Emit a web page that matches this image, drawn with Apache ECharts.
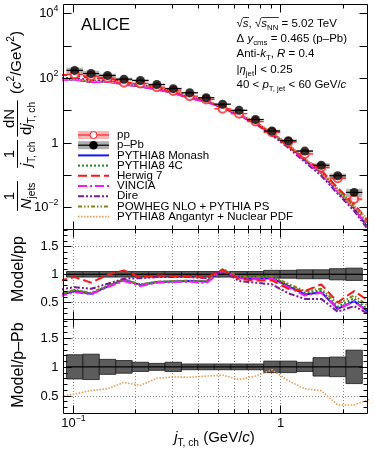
<!DOCTYPE html>
<html><head><meta charset="utf-8">
<script src="https://cdn.jsdelivr.net/npm/echarts@6.0.0/dist/echarts.min.js"></script>
<style>html,body{margin:0;padding:0;background:#fff;}#chart{width:374px;height:457px;}</style>
</head><body><div id="chart"></div>
<script>
// ---------------- data ----------------
const binEdges = [0.0935,0.1122,0.1346,0.1615,0.1938,0.2326,0.2791,0.3349,0.4019,0.4823,0.5787,0.6944,0.8333,1.0,1.2,1.44,1.728,2.074,2.488];
const ppValues  = [130,115,100,71,68,52,40,27.5,21.7,11.2,7.9,4.5,2.1,1.05,0.45,0.17,0.08,0.018];
const ppRelUnc  = [0.05,0.05,0.05,0.05,0.05,0.05,0.05,0.05,0.05,0.05,0.05,0.05,0.07,0.07,0.08,0.08,0.10,0.11];
const ppbValues = [172,138,120,92,84,63,47,35,24.5,15.5,10,5.2,2.3,1.15,0.55,0.20,0.095,0.029];
const ppbRelUnc = [0.21,0.22,0.13,0.11,0.08,0.06,0.08,0.05,0.05,0.05,0.05,0.05,0.10,0.10,0.08,0.16,0.17,0.29];
const modelOuterX = [0.0853, 2.727];
const ppOuter  = [140, 0.006];
const ppbOuter = [185, 0.009];
// Model / pp  (first and last entries lie outside the drawn range)
const ratioMonash = [0.62,0.70,0.65,0.78,0.90,0.81,0.86,0.87,0.88,0.87,1.08,0.94,0.92,0.93,0.79,0.64,0.68,0.38,0.52,0.30];
const ratio4C     = [0.63,0.72,0.66,0.79,0.91,0.81,0.86,0.87,0.88,0.87,1.09,0.95,0.94,0.95,0.81,0.67,0.71,0.42,0.57,0.33];
const ratioHerwig = [0.88,0.95,0.85,0.99,1.07,0.94,0.98,0.97,0.96,0.94,1.08,0.92,0.89,0.89,0.74,0.70,0.82,0.50,0.70,0.50];
const ratioVincia = [0.60,0.68,0.64,0.77,0.88,0.79,0.85,0.86,0.87,0.84,1.07,0.93,0.91,0.92,0.77,0.62,0.67,0.38,0.51,0.30];
const ratioDire   = [0.72,0.77,0.74,0.83,0.92,0.93,0.95,0.95,0.95,0.93,1.07,0.88,0.85,0.82,0.66,0.56,0.56,0.33,0.43,0.27];
const ratioPowheg = [0.64,0.72,0.67,0.80,0.91,0.82,0.87,0.88,0.89,0.88,1.09,0.96,0.95,0.96,0.83,0.70,0.74,0.47,0.62,0.40];
// Model / p-Pb
const ratioAngantyr = [0.47,0.53,0.59,0.62,0.73,0.68,0.80,0.825,0.82,0.84,0.855,0.78,0.84,0.95,0.76,0.62,0.585,0.34,0.34,0.44];

const legendNames = ['pp','p\u2013Pb','PYTHIA8 Monash','PYTHIA8 4C','Herwig 7','VINCIA','Dire','POWHEG NLO + PYTHIA PS','PYTHIA8 Angantyr + Nuclear PDF'];
const xMajorTicks = [0.1, 1];
const xMinorTicks = [0.2,0.3,0.4,0.5,0.6,0.7,0.8,0.9,2];
const logYTicks = [1e-2,1e-1,1,10,100,1000,1e4];
const ratioMajor = [0.5,1,1.5];
const ratioMinor = [0.3,0.4,0.6,0.7,0.8,0.9,1.1,1.2,1.3,1.4,1.6,1.7,1.8];

// ---------------- helpers ----------------
const FONT = 'Liberation Sans';
const mctx = document.createElement('canvas').getContext('2d');
function tw(t, size, italic){ mctx.font = (italic?'italic ':'') + size + 'px "' + FONT + '"'; return mctx.measureText(t).width; }
function txt(t, x, y, size, italic, align){
  return {type:'text', x:x, y:y, silent:true, style:{text:t, fontSize:size, fontFamily:FONT, fontStyle: italic?'italic':'normal',
    fill:'#000', textFill:'#000', align:align||'left', textAlign:align||'left', verticalAlign:'middle', textVerticalAlign:'middle'}};
}
// parts: [text, flags] flags: i italic, s sub, S sup, o overline
function rich(parts, x, y, fs, align){
  const small = fs*0.68;
  const info = parts.map(([t,f])=>{ f=f||''; const sz=(f.includes('s')||f.includes('S'))?small:fs; return {t, f, sz, w:tw(t, sz, f.includes('i'))}; });
  const total = info.reduce((a,b)=>a+b.w,0);
  let cx = align==='center' ? x-total/2 : align==='right' ? x-total : x;
  const els=[];
  info.forEach(p=>{
    const yy = y + (p.f.includes('s') ? fs*0.36 : p.f.includes('S') ? -fs*0.36 : 0);
    els.push(txt(p.t, cx, yy, p.sz, p.f.includes('i'), 'left'));
    if (p.f.includes('o')) els.push({type:'line', silent:true, shape:{x1:cx, y1:y-fs*0.52, x2:cx+p.w+0.5, y2:y-fs*0.52}, style:{stroke:'#000', lineWidth:0.8}});
    cx += p.w;
  });
  return {els, total};
}

const centers = binEdges.slice(0,-1).map((e,i)=>Math.sqrt(e*binEdges[i+1]));
const modelX = [modelOuterX[0], ...centers, modelOuterX[1]];
const ppRef  = [ppOuter[0], ...ppValues, ppOuter[1]];
const ppbRef = [ppbOuter[0], ...ppbValues, ppbOuter[1]];

const models = [
  {name:'PYTHIA8 Monash', r:ratioMonash, color:'#1414ff', dash:'solid', w:2},
  {name:'PYTHIA8 4C', r:ratio4C, color:'#1e8c1e', dash:[2,2], w:2},
  {name:'POWHEG NLO + PYTHIA PS', r:ratioPowheg, color:'#84841a', dash:[4,2,1.5,2,1.5,2], w:2},
  {name:'Dire', r:ratioDire, color:'#7a1a98', dash:[6,2,2,2,2,2], w:2},
  {name:'VINCIA', r:ratioVincia, color:'#ff14ff', dash:[9,3,2,3], w:2},
  {name:'Herwig 7', r:ratioHerwig, color:'#ff1414', dash:[9,4], w:2},
];
const angantyr = {color:'#f09a50', dash:[1.5,1.5], w:1.6};

// ---------------- axes ----------------
const xMin=0.09, xMax=2.62;
const grids = [
  {left:63, top:4, width:304, height:225},
  {left:63, top:229, width:304, height:90},
  {left:63, top:319, width:304, height:94},
];
const xAxes = grids.map((g,i)=>({type:'log', logBase:10, gridIndex:i, min:xMin, max:xMax,
  axisLine:{show:false}, axisTick:{show:false}, axisLabel:{show:false}, splitLine:{show:false}}));
const yAxes = [
  {type:'log', logBase:10, gridIndex:0, min:Math.pow(10,-2.67), max:Math.pow(10,4.29), axisLine:{show:false}, axisTick:{show:false}, axisLabel:{show:false}, splitLine:{show:false}},
  {type:'value', gridIndex:1, min:0.2, max:1.81, axisLine:{show:false}, axisTick:{show:false}, axisLabel:{show:false}, splitLine:{show:false}},
  {type:'value', gridIndex:2, min:0.2, max:1.83, axisLine:{show:false}, axisTick:{show:false}, axisLabel:{show:false}, splitLine:{show:false}},
];

function fmtLog(v){
  const e=Math.round(Math.log10(v));
  if (e===0) return [['1','']];
  return [['10',''],[(e<0?'\u2212':'')+Math.abs(e),'S']];
}

// frame, ticks, tick labels
function frameSeries(gi, cfg){
  return {type:'custom', xAxisIndex:gi, yAxisIndex:gi, silent:true, z:20, clip:false, data:[[1,1]],
    renderItem(params, api){
      const cs=params.coordSys; const L=Math.round(cs.x)+0.5, T=Math.round(cs.y)+0.5, R=Math.round(cs.x+cs.width)+0.5, B=Math.round(cs.y+cs.height)+0.5;
      const px=v=>Math.round(api.coord([v,1])[0])+0.5;
      const py=v=>Math.round(api.coord([1,v])[1])+0.5;
      const ch=[]; const st={stroke:'#000', lineWidth:1};
      const ln=(x1,y1,x2,y2)=>ch.push({type:'line', shape:{x1,y1,x2,y2}, style:st});
      xMajorTicks.forEach(v=>{const x=px(v); ln(x,B,x,B-8); ln(x,T,x,T+8);});
      xMinorTicks.forEach(v=>{const x=px(v); ln(x,B,x,B-4); ln(x,T,x,T+4);});
      cfg.yMajor.forEach(v=>{const y=py(v); ln(L,y,L+8,y); ln(R,y,R-8,y);});
      (cfg.yMinor||[]).forEach(v=>{const y=py(v); ln(L,y,L+4,y); ln(R,y,R-4,y);});
      ch.push({type:'rect', shape:{x:L, y:T, width:R-L, height:B-T}, style:{fill:'none', stroke:'#000', lineWidth:1}});
      cfg.yLabels.forEach(([v,parts])=>{ ch.push(...rich(parts, L-5, py(v), 13, 'right').els); });
      if (cfg.xLabels) cfg.xLabels.forEach(([v,parts])=>{ ch.push(...rich(parts, px(v), B+10, 13, 'center').els); });
      return {type:'group', children:ch};
    }};
}
function gridSeries(gi, ys){
  return {type:'custom', xAxisIndex:gi, yAxisIndex:gi, silent:true, z:1, clip:false, data:[[1,1]],
    renderItem(params, api){
      const cs=params.coordSys; const T=cs.y, B=cs.y+cs.height, L=cs.x, R=cs.x+cs.width;
      const ch=[]; const st={stroke:'#8a8a8a', lineWidth:1, lineDash:[1,2]};
      [...xMajorTicks, ...xMinorTicks].forEach(v=>{const x=Math.round(api.coord([v,1])[0])+0.5; ch.push({type:'line', shape:{x1:x,y1:T,x2:x,y2:B}, style:st});});
      ys.forEach(v=>{const y=Math.round(api.coord([1,v])[1])+0.5; ch.push({type:'line', shape:{x1:L,y1:y,x2:R,y2:y}, style:st});});
      return {type:'group', children:ch};
    }};
}
function boxSeries(gi, rows, style, z){
  return {type:'custom', xAxisIndex:gi, yAxisIndex:gi, silent:true, z:z, data:rows, encode:{x:[0,1], y:[2,3]},
    renderItem(params, api){
      const p0=api.coord([api.value(0), api.value(3)]), p1=api.coord([api.value(1), api.value(2)]);
      return {type:'rect', shape:{x:p0[0], y:p0[1], width:p1[0]-p0[0], height:p1[1]-p0[1]}, style:style};
    }};
}
function barSeries(gi, rows, color, z){
  return {type:'custom', xAxisIndex:gi, yAxisIndex:gi, silent:true, z:z, data:rows, encode:{x:[0,1], y:2},
    renderItem(params, api){
      const p0=api.coord([api.value(0), api.value(2)]), p1=api.coord([api.value(1), api.value(2)]);
      return {type:'line', shape:{x1:p0[0], y1:p0[1], x2:p1[0], y2:p1[1]}, style:{stroke:color, lineWidth:1.2}};
    }};
}

const series = [];
// ----- top panel -----
series.push(boxSeries(0, ppbValues.map((v,i)=>[binEdges[i],binEdges[i+1],v*(1-ppbRelUnc[i]),v*(1+ppbRelUnc[i])]), {fill:'rgba(120,120,120,0.55)'}, 2));
series.push(boxSeries(0, ppValues.map((v,i)=>[binEdges[i],binEdges[i+1],v*(1-ppRelUnc[i]),v*(1+ppRelUnc[i])]), {fill:'rgba(255,90,90,0.4)'}, 3));
models.forEach(m=>series.push({type:'line', xAxisIndex:0, yAxisIndex:0, symbol:'none', silent:true, z:4, clip:true,
  lineStyle:{color:m.color, width:m.w, type:m.dash}, data: modelX.map((x,i)=>[x, m.r[i]*ppRef[i]])}));
series.push({type:'line', xAxisIndex:0, yAxisIndex:0, symbol:'none', silent:true, z:4, clip:true,
  lineStyle:{color:angantyr.color, width:angantyr.w, type:angantyr.dash}, data: modelX.map((x,i)=>[x, ratioAngantyr[i]*ppbRef[i]])});
series.push(barSeries(0, ppValues.map((v,i)=>[binEdges[i],binEdges[i+1],v]), '#ff2020', 6));
series.push({type:'scatter', xAxisIndex:0, yAxisIndex:0, symbol:'emptyCircle', symbolSize:8, silent:true, z:7,
  itemStyle:{color:'#ff2020', borderColor:'#ff2020', borderWidth:1}, data: ppValues.map((v,i)=>[centers[i], v])});
series.push(barSeries(0, ppbValues.map((v,i)=>[binEdges[i],binEdges[i+1],v]), '#000', 8));
series.push({type:'scatter', xAxisIndex:0, yAxisIndex:0, symbol:'circle', symbolSize:9, silent:true, z:9,
  itemStyle:{color:'#000'}, data: ppbValues.map((v,i)=>[centers[i], v])});
series.push(frameSeries(0, {yMajor:logYTicks, yLabels:[1e-2,1,100,1e4].map(v=>[v, fmtLog(v)])}));

// ----- Model/pp panel -----
series.push(gridSeries(1, ratioMajor));
series.push(boxSeries(1, ppRelUnc.map((u,i)=>[binEdges[i],binEdges[i+1],1-u,1+u]), {fill:'#5c5c5c', stroke:'#1a1a1a', lineWidth:0.8}, 2));
series.push(barSeries(1, ppRelUnc.map((u,i)=>[binEdges[i],binEdges[i+1],1]), '#000', 3));
models.forEach(m=>series.push({type:'line', xAxisIndex:1, yAxisIndex:1, symbol:'none', silent:true, z:4, clip:true,
  lineStyle:{color:m.color, width:m.w, type:m.dash}, data: modelX.map((x,i)=>[x, m.r[i]])}));
series.push(frameSeries(1, {yMajor:ratioMajor, yMinor:ratioMinor, yLabels:[[0.5,[['0.5','']]],[1,[['1','']]],[1.5,[['1.5','']]]]}));

// ----- Model/p-Pb panel -----
series.push(gridSeries(2, ratioMajor));
series.push(boxSeries(2, ppbRelUnc.map((u,i)=>[binEdges[i],binEdges[i+1],1-u,1+u]), {fill:'#5c5c5c', stroke:'#1a1a1a', lineWidth:0.8}, 2));
series.push(barSeries(2, ppbRelUnc.map((u,i)=>[binEdges[i],binEdges[i+1],1]), '#000', 3));
series.push({type:'line', xAxisIndex:2, yAxisIndex:2, symbol:'none', silent:true, z:4, clip:true,
  lineStyle:{color:angantyr.color, width:angantyr.w, type:angantyr.dash}, data: modelX.map((x,i)=>[x, ratioAngantyr[i]])});
series.push(frameSeries(2, {yMajor:ratioMajor, yMinor:ratioMinor, yLabels:[[0.5,[['0.5','']]],[1,[['1','']]],[1.5,[['1.5','']]]],
  xLabels:[[0.1, fmtLog(0.1)],[1,[['1','']]]]}));

// ---------------- graphic: titles, legend, texts ----------------
const G = [];
G.push(txt('ALICE', 81, 25, 17, false, 'left'));
const tx=236.5, tfs=11.5;
G.push(...rich([['\u221A',''],['s','io'],[', \u221A',''],['s','io'],['NN','so'],[' = 5.02 TeV','']], tx, 23.5, tfs).els);
G.push(...rich([['\u0394 ',''],['y','i'],['cms','s'],[' = 0.465 (p\u2013Pb)','']], tx, 39, tfs).els);
G.push(...rich([['Anti-',''],['k','i'],['T','s'],[', ',''],['R','i'],[' = 0.4','']], tx, 54, tfs).els);
G.push(...rich([['|',''],['\u03B7','i'],['jet','s'],['| < 0.25','']], tx, 69.5, tfs).els);
G.push(...rich([['40 < ',''],['p','i'],['T, jet','s'],[' < 60 GeV/',''],['c','i']], tx, 85, tfs).els);

// legend
const lgY0=135, lgDy=10.2, lgX0=78, lgX1=109, lgTx=117, lgFs=11.5;
legendNames.forEach((n,i)=>{ G.push(txt(n, lgTx, lgY0+i*lgDy, lgFs, false, 'left')); });
G.push({type:'rect', silent:true, shape:{x:lgX0, y:lgY0-4, width:lgX1-lgX0, height:8}, style:{fill:'rgba(255,90,90,0.45)'}});
G.push({type:'line', silent:true, shape:{x1:lgX0, y1:lgY0, x2:lgX1, y2:lgY0}, style:{stroke:'#ff2020', lineWidth:1.2}});
G.push({type:'circle', silent:true, shape:{cx:(lgX0+lgX1)/2, cy:lgY0, r:3.5}, style:{fill:'#fff', stroke:'#ff2020', lineWidth:1}});
G.push({type:'rect', silent:true, shape:{x:lgX0, y:lgY0+lgDy-4, width:lgX1-lgX0, height:8}, style:{fill:'rgba(120,120,120,0.6)'}});
G.push({type:'line', silent:true, shape:{x1:lgX0, y1:lgY0+lgDy, x2:lgX1, y2:lgY0+lgDy}, style:{stroke:'#000', lineWidth:1.2}});
G.push({type:'circle', silent:true, shape:{cx:(lgX0+lgX1)/2, cy:lgY0+lgDy, r:4.3}, style:{fill:'#000'}});
const lgOrder = ['PYTHIA8 Monash','PYTHIA8 4C','Herwig 7','VINCIA','Dire','POWHEG NLO + PYTHIA PS'];
lgOrder.forEach((n,k)=>{ const m=models.find(mm=>mm.name===n); const y=lgY0+(k+2)*lgDy;
  G.push({type:'line', silent:true, shape:{x1:lgX0, y1:y, x2:lgX1, y2:y}, style:{stroke:m.color, lineWidth:m.w, lineDash: m.dash==='solid'?null:m.dash}}); });
G.push({type:'line', silent:true, shape:{x1:lgX0, y1:lgY0+8*lgDy, x2:lgX1, y2:lgY0+8*lgDy}, style:{stroke:angantyr.color, lineWidth:angantyr.w, lineDash:angantyr.dash}});

// top y title (rotated)
(function(){
  const ch=[]; const fs=15;
  function frac(num, den, cx){
    const a=rich(num, cx, 10, fs, 'center'), b=rich(den, cx, 26.5, fs, 'center');
    ch.push(...a.els, ...b.els);
    const w=Math.max(a.total,b.total)+3;
    ch.push({type:'line', silent:true, shape:{x1:cx-w/2, y1:17.5, x2:cx+w/2, y2:17.5}, style:{stroke:'#000', lineWidth:1}});
  }
  frac([['1','']], [['N','i'],['jets','s']], 44);
  frac([['1','']], [['j','i'],['T, ch','s']], 86);
  frac([['dN','']], [['d',''],['j','i'],['T, ch','s']], 121.5);
  ch.push(...rich([['(',''],['c','i'],['2','S'],['/GeV',''],['2','S'],[')','']], 177.5, 17, fs, 'center').els);
  G.push({type:'group', x:0, y:240, rotation:Math.PI/2, children:ch});
})();
G.push({type:'group', x:19, y:269, rotation:Math.PI/2, children: rich([['Model/pp','']], 0, 0, 16, 'center').els});
G.push({type:'group', x:19, y:365, rotation:Math.PI/2, children: rich([['Model/p\u2013Pb','']], 0, 0, 16, 'center').els});
G.push(...rich([['j','i'],['T, ch','s'],[' (GeV/',''],['c','i'],[')','']], 214.5, 437.5, 15, 'center').els);

const chart = echarts.init(document.getElementById('chart'), null, {renderer:'canvas'});
chart.setOption({animation:false, backgroundColor:'#fff', grid:grids, xAxis:xAxes, yAxis:yAxes, series:series, graphic:{elements:G}});
</script></body></html>
